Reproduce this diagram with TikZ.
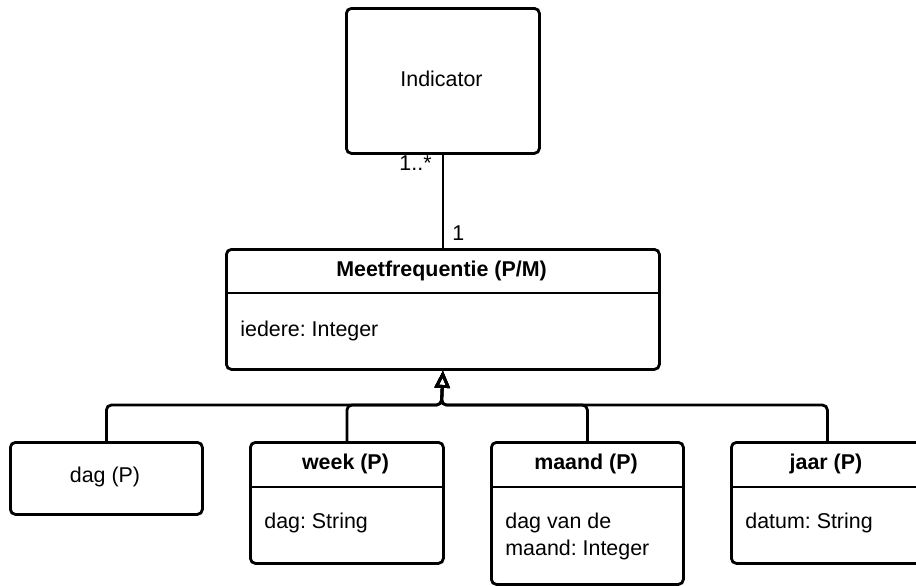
\documentclass[tikz,border=0pt]{standalone}
\usepackage{fontspec}
\setmainfont{Liberation Sans}
\frenchspacing
\usetikzlibrary{arrows.meta}
\begin{document}
\begin{tikzpicture}[x=0.5pt,y=-0.5pt,
  umlbox/.style={draw, line width=1.4pt, rounded corners=2.5pt, anchor=north west,
                 inner sep=0pt, fill=white},
  lbl/.style={font=\fontsize{10.7}{13}\selectfont, inner sep=0pt},
  ttl/.style={font=\fontsize{10.7}{13}\selectfont\bfseries, inner sep=0pt},
  divider/.style={line width=1.4pt},
  conn/.style={line width=1.4pt, rounded corners=2.5pt},
  gen/.style={conn, -{Triangle[open, length=8.5pt, width=7.5pt, line width=1.4pt]}}
]
\clip (0,0) rectangle (916,585);
\useasboundingbox (0,0) rectangle (916,585);

% class boxes
\node[umlbox, minimum width=96.5pt, minimum height=72.5pt] (ind) at (345,7) {};
\node[umlbox, minimum width=216.5pt, minimum height=60pt] (meet) at (225,248) {};
\node[umlbox, minimum width=96pt, minimum height=36pt] (dag) at (9,441) {};
\node[umlbox, minimum width=96.5pt, minimum height=60.5pt] (week) at (249,441) {};
\node[umlbox, minimum width=96pt, minimum height=71pt] (maand) at (490,441) {};
\node[umlbox, minimum width=96pt, minimum height=60.5pt] (jaar) at (730,441) {};

% compartment dividers
\draw[divider] (meet.west |- 0,293) -- (meet.east |- 0,293);
\draw[divider] (week.west |- 0,487) -- (week.east |- 0,487);
\draw[divider] (maand.west |- 0,487) -- (maand.east |- 0,487);
\draw[divider] (jaar.west |- 0,487) -- (jaar.east |- 0,487);

% texts
\node[lbl, anchor=base] (ind-t) at (441.5,86) {Indicator};
\node[ttl, anchor=base] (meet-t) at (441.5,276) {Meetfrequentie (P/M)};
\node[lbl, anchor=base west] (meet-a) at (240,336) {iedere: Integer};
\node[lbl, anchor=base] (dag-t) at (105,482) {dag (P)};
\node[ttl, anchor=base] (week-t) at (345.5,469) {week (P)};
\node[lbl, anchor=base west] (week-a) at (264,528) {dag: String};
\node[ttl, anchor=base] (maand-t) at (586,469) {maand (P)};
\node[lbl, anchor=base west] (maand-a) at (505,528) {dag van de};
\node[lbl, anchor=base west] (maand-b) at (505,555) {maand: Integer};
\node[ttl, anchor=base] (jaar-t) at (826,469) {jaar (P)};
\node[lbl, anchor=base west] (jaar-a) at (745,528) {datum: String};

% association with multiplicities
\draw[conn] (ind.south) -- (meet.north);
\node[lbl, anchor=base east] (m-top) at (432,170) {1..*};
\node[lbl, anchor=base west] (m-bot) at (452,240) {1};

% generalisation tree
\coordinate (hub) at (441.5,405);
\foreach \c in {dag,week,maand,jaar}
  \draw[gen] (\c.north) |- (hub) -- (meet.south);
\end{tikzpicture}
\end{document}
